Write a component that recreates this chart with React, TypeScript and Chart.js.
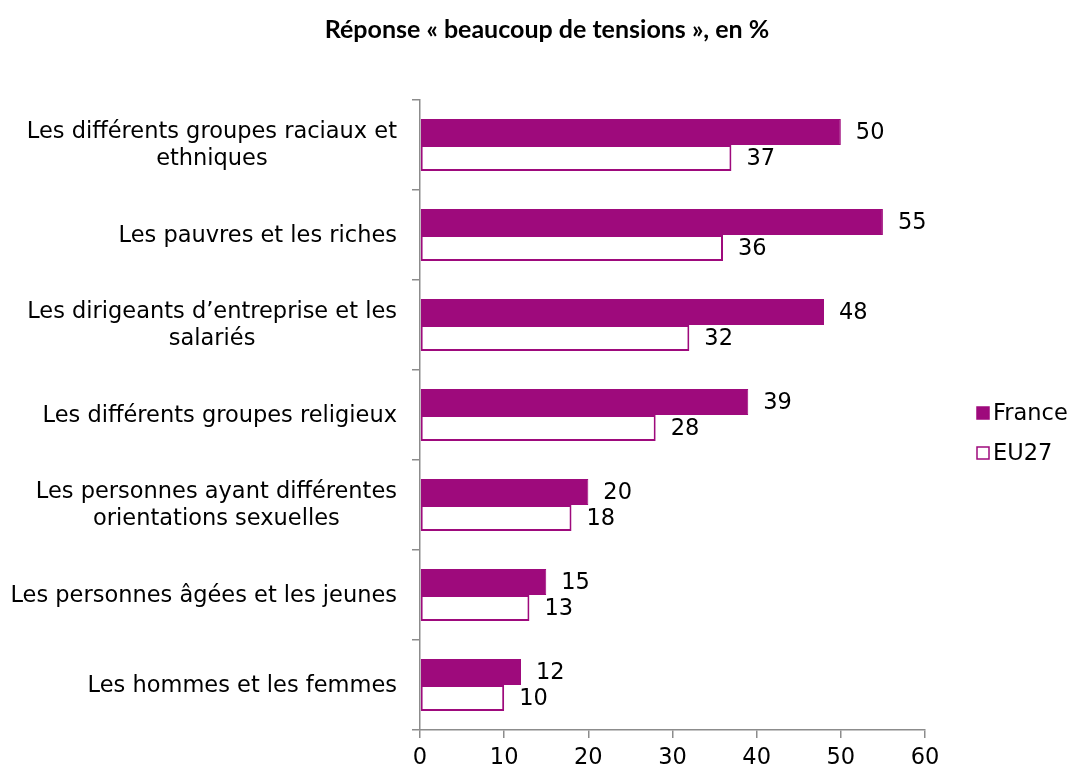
import React, { useEffect, useRef } from "react";
import { Chart, registerables } from "chart.js";

Chart.register(...registerables);

const categories: string[][] = [
  ["Les différents groupes raciaux et", "ethniques"],
  ["Les pauvres et les riches"],
  ["Les dirigeants d’entreprise et les", "salariés"],
  ["Les différents groupes religieux"],
  ["Les personnes ayant différentes", "orientations sexuelles"],
  ["Les personnes âgées et les jeunes"],
  ["Les hommes et les femmes"],
];
const franceValues = [50, 55, 48, 39, 20, 15, 12];
const eu27Values = [37, 36, 32, 28, 18, 13, 10];
const seriesNames = ["France", "EU27"];
const titleText = "Réponse « beaucoup de tensions », en %";

const PURPLE = "#9E0A7C";
const FONT = "'DejaVu Sans', Verdana, sans-serif";
const FS = 22.5;

const overlayPlugin = {
  id: "overlay",
  afterDatasetsDraw(chart: any) {
    const ctx = chart.ctx;
    ctx.save();
    ctx.font = `${FS}px ${FONT}`;
    ctx.fillStyle = "#000";
    ctx.textBaseline = "middle";
    ctx.textAlign = "left";
    chart.data.datasets.forEach((ds: any, i: number) => {
      const meta = chart.getDatasetMeta(i);
      meta.data.forEach((bar: any, j: number) => {
        ctx.fillText(String(ds.data[j]), bar.x + 15, bar.y + 1);
      });
    });
    // category labels: right-aligned blocks, lines centered within block
    const yScale = chart.scales.y;
    const right = yScale.right - 23;
    const lh = 27;
    ctx.textAlign = "center";
    (chart.data.labels as string[][]).forEach((lines, j) => {
      const cy = yScale.getPixelForValue(j);
      const w = Math.max(...lines.map((l) => ctx.measureText(l).width));
      const cx = right - w / 2;
      const y0 = cy - ((lines.length - 1) * lh) / 2;
      lines.forEach((l, k) => ctx.fillText(l, cx, y0 + k * lh + 1));
    });
    // title
    ctx.font = `bold 25px 'Lato', 'Liberation Sans Narrow', sans-serif`;
    ctx.textAlign = "center";
    ctx.fillText(titleText, 547, 30);
    // legend
    const items = chart.data.datasets;
    ctx.font = `${FS}px ${FONT}`;
    ctx.textAlign = "left";
    items.forEach((ds: any, i: number) => {
      const y = 413 + i * 40;
      ctx.fillStyle = ds.backgroundColor;
      ctx.strokeStyle = ds.borderColor;
      ctx.lineWidth = 1.5;
      ctx.fillRect(977, y - 6, 12, 12);
      ctx.strokeRect(977, y - 6, 12, 12);
      ctx.fillStyle = "#000";
      ctx.fillText(ds.label, 993, y + 1);
    });
    ctx.restore();
  },
};

export default function App() {
  const ref = useRef<HTMLCanvasElement>(null);
  useEffect(() => {
    const chart = new Chart(ref.current!, {
      type: "bar",
      data: {
        labels: categories,
        datasets: [
          {
            label: seriesNames[0],
            data: franceValues,
            backgroundColor: PURPLE,
            borderColor: PURPLE,
            borderWidth: 1,
            categoryPercentage: 0.58,
            barPercentage: 1,
          },
          {
            label: seriesNames[1],
            data: eu27Values,
            backgroundColor: "#ffffff",
            borderColor: PURPLE,
            borderWidth: 2,
            borderSkipped: false,
            categoryPercentage: 0.58,
            barPercentage: 1,
          },
        ],
      },
      options: {
        indexAxis: "y",
        animation: false,
        responsive: false,
        layout: { padding: { top: 100, right: 146, left: 0, bottom: 0 } },
        plugins: {
          legend: { display: false },
          title: { display: false },
          tooltip: { enabled: false },
        },
        scales: {
          x: {
            min: 0,
            max: 60,
            ticks: { stepSize: 10, color: "#000", font: { size: FS, family: FONT }, padding: 7 },
            grid: { drawOnChartArea: false, drawTicks: true, tickLength: 8, color: "#8c8c8c", lineWidth: 1.5 },
            border: { color: "#8c8c8c", width: 1.5 },
            afterFit: (s: any) => { s.height = 41; },
          },
          y: {
            ticks: { display: false },
            grid: { drawOnChartArea: false, drawTicks: true, tickLength: 8, offset: true, color: "#8c8c8c", lineWidth: 1.5 },
            border: { color: "#8c8c8c", width: 1.5 },
            afterFit: (s: any) => { s.width = 420; },
          },
        },
      },
      plugins: [overlayPlugin],
    });
    return () => chart.destroy();
  }, []);
  return (
    <div style={{ position: "fixed", left: 0, top: 0, width: 1071, height: 771, background: "#fff" }}>
      <canvas ref={ref} width={1071} height={771} />
    </div>
  );
}
